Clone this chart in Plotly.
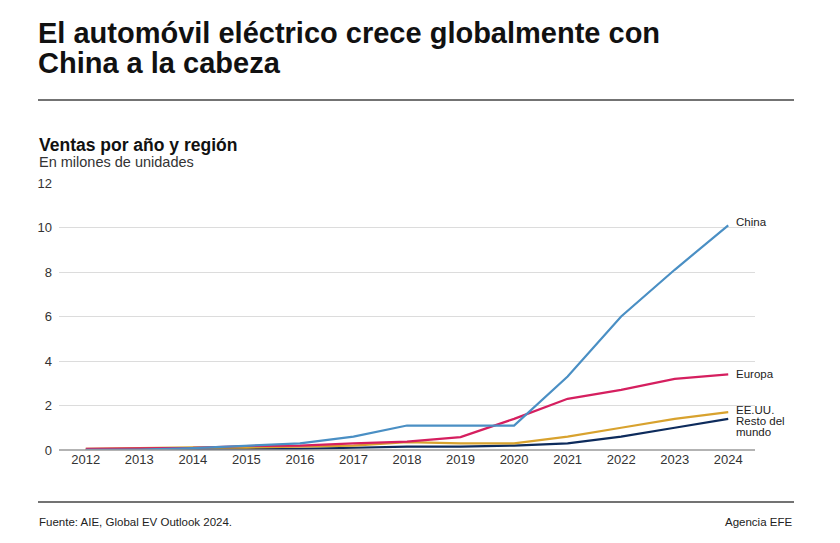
import plotly.graph_objects as go

years = [2012, 2013, 2014, 2015, 2016, 2017, 2018, 2019, 2020, 2021, 2022, 2023, 2024]
china = [0.01, 0.02, 0.08, 0.2, 0.3, 0.6, 1.1, 1.1, 1.1, 3.3, 6.0, 8.1, 10.1]
europa = [0.05, 0.07, 0.1, 0.18, 0.2, 0.3, 0.38, 0.58, 1.4, 2.3, 2.7, 3.2, 3.4]
eeuu = [0.05, 0.1, 0.12, 0.11, 0.16, 0.2, 0.35, 0.3, 0.3, 0.6, 1.0, 1.4, 1.7]
resto = [0.0, 0.01, 0.02, 0.03, 0.05, 0.1, 0.15, 0.15, 0.2, 0.3, 0.6, 1.0, 1.4]
y_ticks = [0, 2, 4, 6, 8, 10, 12]

series = [
    ("Resto del mundo", resto, "#0d2b5c"),
    ("EE.UU.", eeuu, "#d8a22e"),
    ("Europa", europa, "#d51f5f"),
    ("China", china, "#4a8fc4"),
]

W, H = 840, 543
L, R, T, B = 59, 755, 183, 450

def px(x):
    return (x - L) / (R - L)

def py(y):
    return (B - y) / (B - T)

FONT = "Liberation Sans, Arial, sans-serif"

fig = go.Figure()
for name, vals, col in series:
    fig.add_trace(go.Scatter(x=years, y=vals, mode="lines", name=name,
                             line=dict(color=col, width=2.2), showlegend=False,
                             cliponaxis=False))

annotations = []
def txt(text, x, y, size, color="#1a1a1a", bold=False, xanchor="left", yanchor="middle"):
    annotations.append(dict(text=("<b>%s</b>" % text) if bold else text,
                            x=px(x), y=py(y), xref="paper", yref="paper",
                            xanchor=xanchor, yanchor=yanchor, showarrow=False,
                            font=dict(family=FONT, size=size, color=color)))

txt("El automóvil eléctrico crece globalmente con", 36, 33, 29, "#111111", bold=True)
txt("China a la cabeza", 36, 63, 29, "#111111", bold=True)
txt("Ventas por año y región", 37, 145, 17.5, "#111111", bold=True)
txt("En milones de unidades", 37, 162, 14.5, "#333333")
txt("Fuente: AIE, Global EV Outlook 2024.", 37, 522, 11.5, "#222222")
txt("Agencia EFE", 794, 522, 11.5, "#222222", xanchor="right")

# end labels (text, anchor value, vertical pixel offset)
LBL = 11.5
labels = [("China", china[-1], 3), ("Europa", europa[-1], 0), ("EE.UU.", eeuu[-1], 2),
          ("Resto del", resto[-1], -2), ("mundo", resto[-1], -13)]
for lab, v, ys in labels:
    annotations.append(dict(text=lab, x=years[-1], y=v, xref="x", yref="y", xanchor="left",
                            yanchor="middle", xshift=6, yshift=ys, showarrow=False,
                            font=dict(family=FONT, size=LBL, color="#222222")))

shapes = [
    dict(type="line", xref="paper", yref="paper", x0=px(38), x1=px(794), y0=py(100), y1=py(100),
         line=dict(color="#444444", width=1.3)),
    dict(type="line", xref="paper", yref="paper", x0=px(38), x1=px(794), y0=py(502), y1=py(502),
         line=dict(color="#444444", width=1.3)),
    dict(type="line", xref="paper", yref="paper", x0=0, x1=1, y0=0, y1=0,
         line=dict(color="#9a9a9a", width=1.5)),
]

fig.update_layout(
    width=W, height=H,
    margin=dict(l=L, r=W - R, t=T, b=H - B),
    paper_bgcolor="white", plot_bgcolor="white",
    annotations=annotations, shapes=shapes,
    xaxis=dict(range=[2011.5, 2024.5], tickmode="array", tickvals=years,
               ticktext=[str(y) for y in years], showgrid=False, zeroline=False,
               showline=False, ticks="", tickfont=dict(family=FONT, size=13, color="#333333")),
    yaxis=dict(range=[0, 12], tickmode="array", tickvals=y_ticks,
               ticktext=[str(v) for v in y_ticks], showgrid=True, gridcolor="#dcdcdc",
               gridwidth=1, zeroline=False, showline=False, ticks="",
               ticklabelstandoff=6,
               tickfont=dict(family=FONT, size=13, color="#333333")),
)

fig.write_html("out.html")
